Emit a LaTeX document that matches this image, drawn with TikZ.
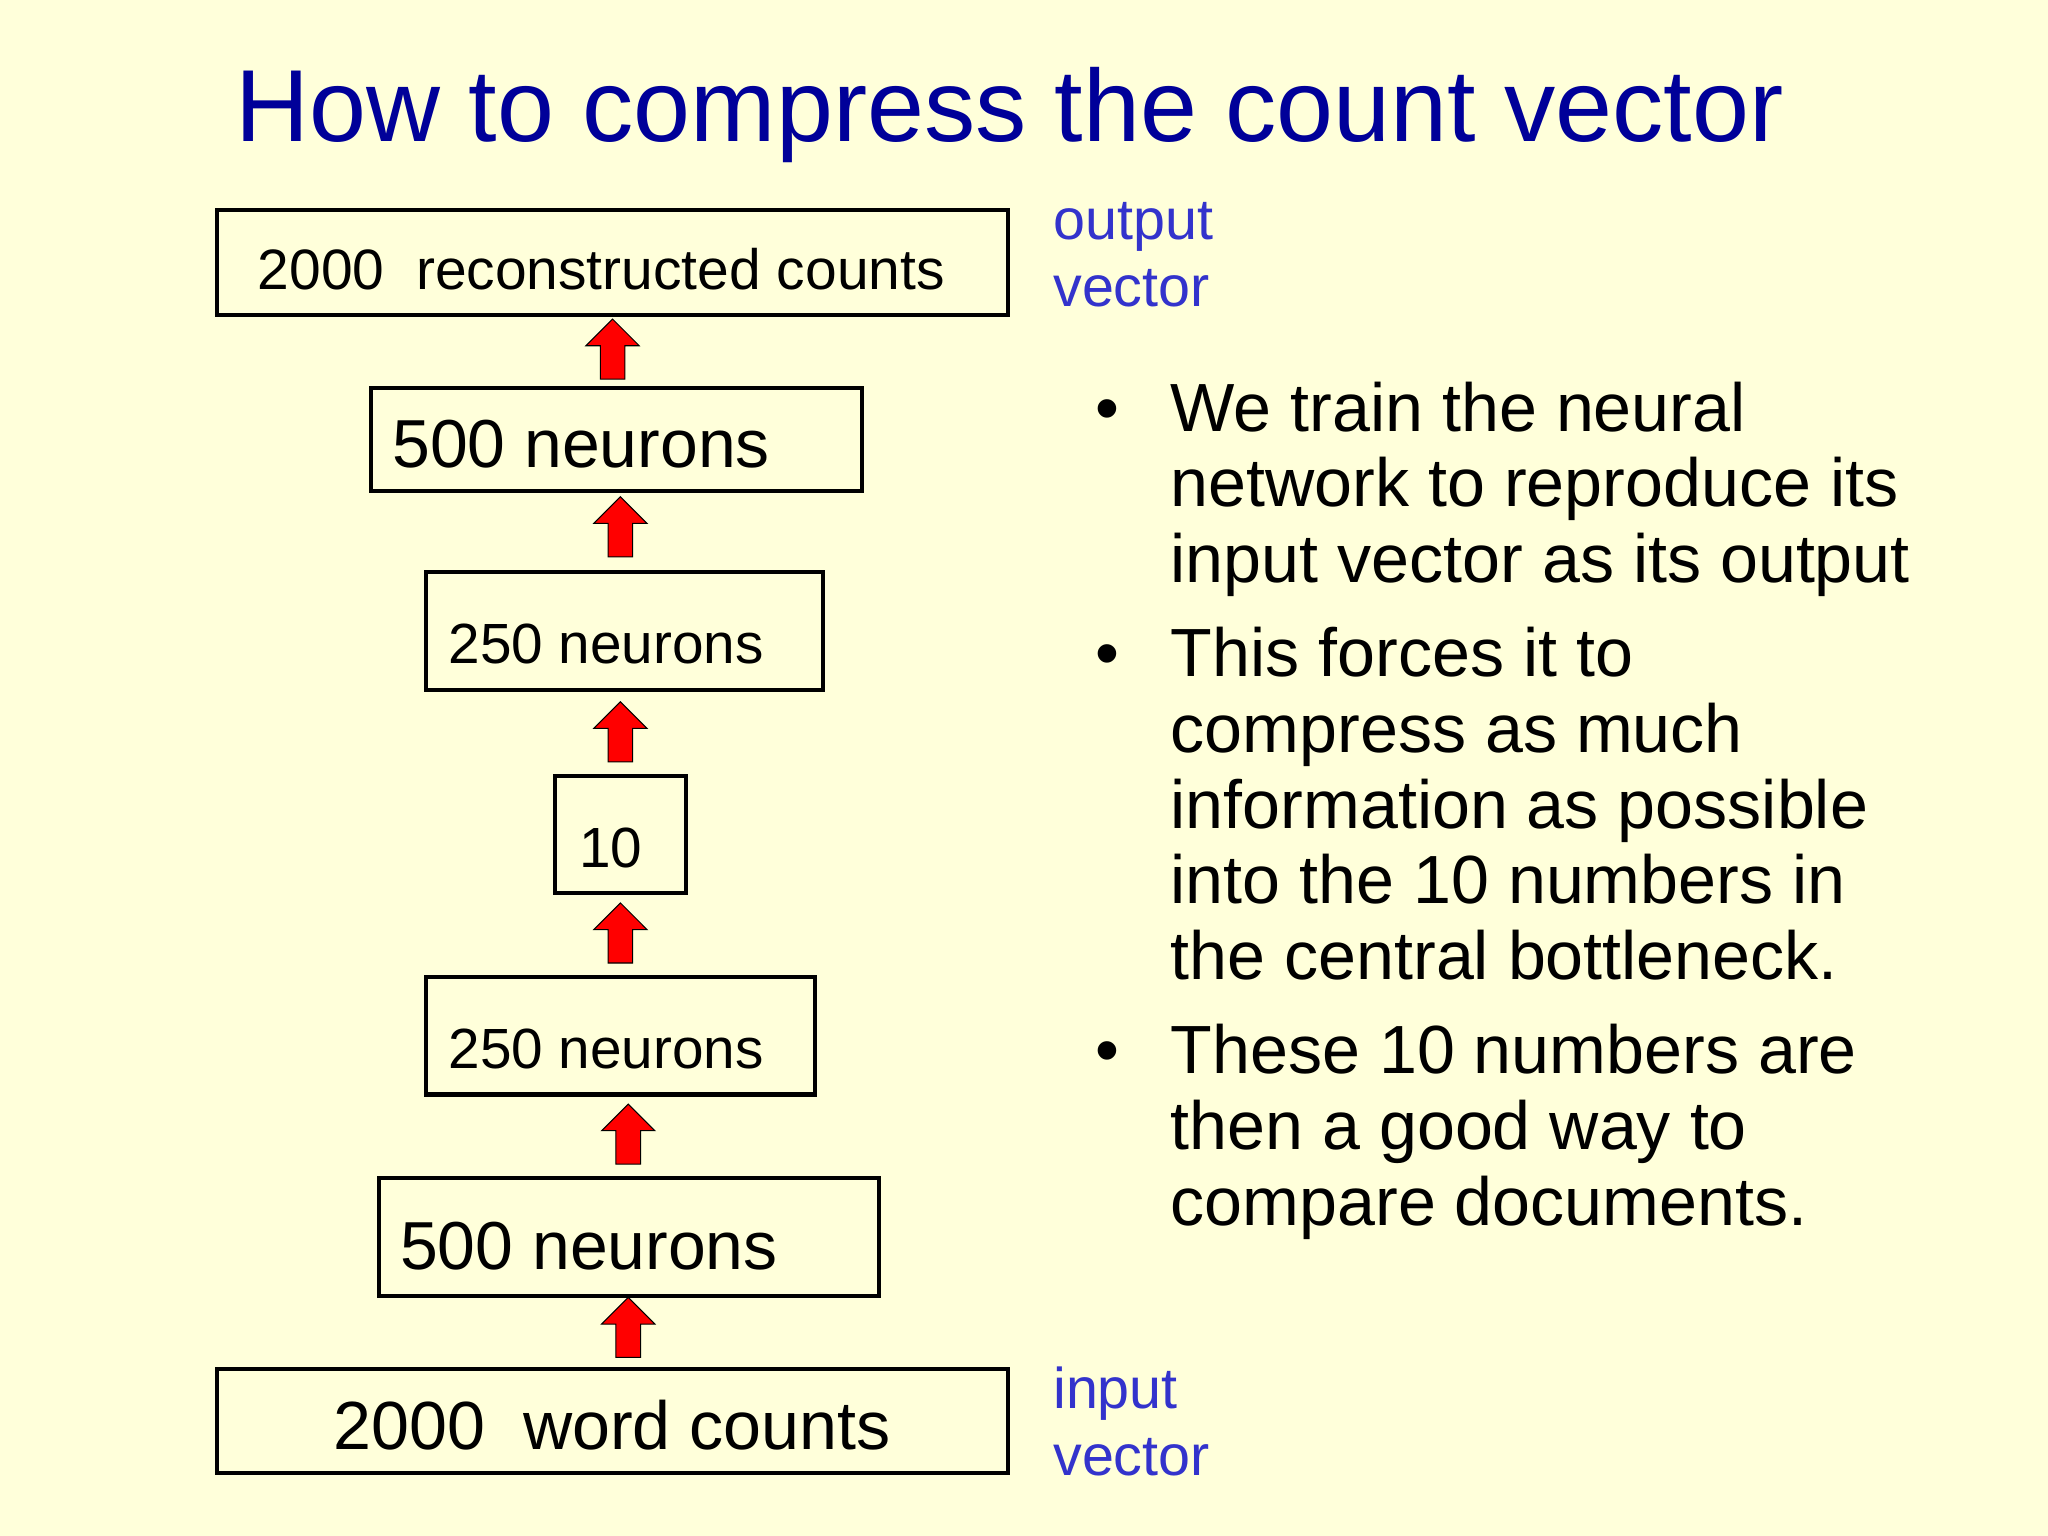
\documentclass[tikz,border=0pt]{standalone}
\usepackage{fontspec}
\setmainfont{Liberation Sans}
\usetikzlibrary{shapes.arrows}
\definecolor{bg}{HTML}{FFFFDA}
\definecolor{ttl}{HTML}{000099}
\definecolor{lbl}{HTML}{3333CC}
\tikzset{
 layer/.style={draw=black,line width=1.6pt},
 txt/.style={anchor=base west,inner sep=0pt},
 up/.style={single arrow,draw=black,fill=red,line width=0.4pt,rotate=90,
   inner sep=4.5pt,single arrow head extend=5.5pt,single arrow tip angle=90,anchor=center,minimum height=23pt}
}
\begin{document}
\begin{tikzpicture}[x=0.5pt,y=-0.5pt]
\fill[bg] (0,0) rectangle (1568,1176);
\useasboundingbox (0,0) rectangle (1568,1176);
\node[anchor=base,inner sep=0pt,text=ttl,font=\fontsize{39.2}{46}\selectfont] (title) at (773,108) {How to compress the count vector};
\draw[layer] (166,161) rectangle (772,241) coordinate (b1);
\node[txt,font=\fontsize{21.8}{26}\selectfont] (t1) at (197,222) {2000\ \ reconstructed counts};
\draw[layer] (284,297) rectangle (660,376);
\node[txt,font=\fontsize{26}{30}\selectfont] (t2) at (300,358) {500 neurons};
\draw[layer] (326,438) rectangle (630,528);
\node[txt,font=\fontsize{21.7}{26}\selectfont] (t3) at (343,508) {250 neurons};
\draw[layer] (425,594) rectangle (525,684);
\node[txt,font=\fontsize{21.7}{26}\selectfont] (t4) at (443,664) {10};
\draw[layer] (326,748) rectangle (624,838);
\node[txt,font=\fontsize{21.7}{26}\selectfont] (t5) at (343,818) {250 neurons};
\draw[layer] (290,902) rectangle (673,992);
\node[txt,font=\fontsize{26}{30}\selectfont] (t6) at (306,972) {500 neurons};
\draw[layer] (166,1048) rectangle (772,1128);
\node[txt,font=\fontsize{26.1}{30}\selectfont] (t7) at (255,1110) {2000\ \ word counts};
% arrows
\node[up] (a1) at (469,272) {};
\node[up] (a2) at (475,408) {};
\node[up] (a3) at (475,565) {};
\node[up] (a4) at (475,719) {};
\node[up] (a5) at (481,873) {};
\node[up] (a6) at (481,1021) {};
% side labels
\begin{scope}[every node/.style={txt,text=lbl,font=\fontsize{22}{26}\selectfont}]
\node (o1) at (806,183) {output};
\node (o2) at (806,235) {vector};
\node (i1) at (806,1078) {input};
\node (i2) at (806,1130) {vector};
\end{scope}
\begin{scope}[every node/.style={txt,font=\fontsize{26.1}{30}\selectfont}]
\node (d1) at (838,330) {•};
\node (d2) at (838,518) {•};
\node (d3) at (838,822) {•};
\node (l1) at (896,330) {We train the neural};
\node (l2) at (896,388) {network to reproduce its};
\node (l3) at (896,446) {input vector as its output};
\node (l4) at (896,518) {This forces it to};
\node (l5) at (896,576) {compress as much};
\node (l6) at (896,634) {information as possible};
\node (l7) at (896,692) {into the 10 numbers in};
\node (l8) at (896,750) {the central bottleneck.};
\node (l9) at (896,822) {These 10 numbers are};
\node (l10) at (896,880) {then a good way to};
\node (l11) at (896,938) {compare documents.};
\end{scope}
\end{tikzpicture}
\end{document}
